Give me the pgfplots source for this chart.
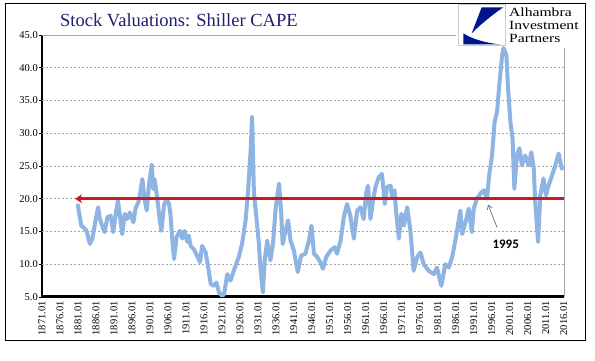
\documentclass[border=0pt]{standalone}
\usepackage{pgfplots}
\pgfplotsset{compat=1.18}
\usepackage{fontspec}
\setmainfont{Liberation Serif}
\newfontfamily\calibri{Carlito}
\newfontfamily\logofont[FakeStretch=1.25]{Liberation Serif}
\usetikzlibrary{arrows.meta}
\definecolor{cape}{RGB}{141,180,226}
\definecolor{navy}{RGB}{31,31,115}
\definecolor{redline}{RGB}{204,24,30}
\definecolor{logoblue}{RGB}{0,20,140}
\definecolor{annot}{RGB}{70,95,135}
\pgfplotstableread{
year val
1881.0 19.0
1881.2 18.2
1881.9 15.9
1882.6 15.6
1883.4 15.1
1884.3 13.1
1885.0 13.9
1885.9 16.7
1886.6 18.7
1887.1 16.9
1887.7 15.9
1888.4 14.9
1889.2 17.2
1890.1 17.4
1890.8 14.9
1891.5 17.7
1892.1 19.7
1892.6 17.7
1893.3 14.6
1894.0 17.7
1894.7 16.9
1895.4 17.9
1896.4 16.4
1897.0 18.5
1897.8 19.5
1898.2 20.5
1898.9 23.0
1899.5 20.0
1900.1 18.2
1900.7 22.0
1901.5 25.2
1901.9 21.5
1902.3 23.0
1903.0 20.2
1903.7 16.9
1904.2 15.1
1904.9 19.0
1905.6 20.0
1906.3 19.2
1906.7 17.7
1907.2 13.9
1907.7 10.8
1908.4 14.1
1909.3 15.1
1910.0 13.9
1910.6 15.1
1911.4 13.4
1911.8 14.4
1912.3 12.8
1913.2 12.3
1914.1 11.3
1914.9 10.3
1915.5 12.8
1916.5 11.8
1917.4 8.8
1917.9 7.0
1918.8 6.7
1919.5 7.2
1920.2 5.7
1921.1 5.2
1921.6 5.4
1922.5 8.5
1923.4 7.5
1924.3 9.0
1925.7 11.1
1926.6 13.1
1927.6 16.7
1928.3 21.3
1929.0 27.4
1929.4 32.5
1929.9 21.0
1930.5 17.7
1931.3 13.1
1931.7 9.5
1932.4 5.7
1932.9 10.6
1933.6 13.6
1934.5 10.6
1935.2 13.1
1935.9 18.2
1936.6 21.3
1936.9 22.3
1937.5 17.7
1937.9 13.1
1938.7 15.1
1939.4 16.7
1940.1 13.6
1941.0 12.1
1942.1 8.8
1943.0 11.3
1944.2 11.6
1945.2 13.6
1945.9 15.9
1946.6 11.6
1947.5 11.1
1948.4 10.3
1949.1 9.3
1950.0 11.1
1951.2 12.1
1952.4 12.6
1953.0 11.6
1954.0 13.6
1954.9 17.2
1955.8 19.2
1956.7 17.4
1957.7 13.9
1958.6 18.2
1959.5 18.7
1960.4 16.9
1961.1 20.8
1961.6 22.0
1962.3 16.9
1963.0 19.7
1963.7 21.8
1964.6 23.3
1965.5 23.8
1966.3 19.2
1966.9 21.8
1967.9 22.0
1968.3 20.2
1969.0 21.3
1969.4 18.2
1970.2 13.9
1970.9 17.7
1971.6 15.9
1972.5 18.7
1973.4 15.2
1974.3 9.0
1975.3 11.1
1976.2 11.8
1977.1 10.0
1978.5 9.0
1979.9 8.5
1980.8 9.5
1982.0 6.7
1983.1 10.0
1984.1 9.5
1985.0 11.1
1985.9 13.6
1987.3 18.2
1987.8 14.6
1989.1 17.2
1989.6 18.5
1990.5 14.9
1991.0 18.5
1991.9 20.0
1992.9 20.8
1993.8 21.3
1994.7 20.0
1995.3 23.6
1996.1 26.6
1996.8 31.7
1997.5 33.3
1998.1 37.3
1998.9 41.9
1999.3 43.0
2000.1 41.9
2000.5 37.3
2001.2 31.7
2001.8 29.2
2002.3 21.5
2003.0 26.6
2003.7 27.7
2004.4 25.1
2005.3 26.6
2006.3 25.1
2007.0 27.1
2007.7 24.6
2008.1 19.5
2008.9 13.4
2009.5 20.5
2010.4 23.1
2011.1 20.5
2011.8 22.0
2012.8 23.6
2013.7 25.1
2014.6 26.9
2015.5 24.6
}\capedata
\begin{document}
\begin{tikzpicture}[x=1pt,y=1pt]
\path[use as bounding box] (0,0) rectangle (595,361);
\fill[white] (0,0) rectangle (595,361);
\draw[line width=1pt] (5,357) rectangle (585,20);
\begin{axis}[
  at={(42pt,64pt)}, anchor=south west,
  scale only axis, width=522pt, height=262pt,
  xmin=1871, xmax=2016.1, ymin=5, ymax=45,
  clip=false,
  axis x line*=bottom, axis y line*=left,
  axis line style={-},
  x axis line style={line width=3pt},
  y axis line style={line width=1.2pt},
  xtick={1871,1876,...,2016},
  xticklabels={1871.01,1876.01,1881.01,1886.01,1891.01,1896.01,1901.01,1906.01,1911.01,1916.01,1921.01,1926.01,1931.01,1936.01,1941.01,1946.01,1951.01,1956.01,1961.01,1966.01,1971.01,1976.01,1981.01,1986.01,1991.01,1996.01,2001.01,2006.01,2011.01,2016.01},
  xticklabel style={rotate=90, anchor=east, font=\fontsize{10.5}{12}\selectfont, inner sep=1pt},
  xtick style={draw=none},
  ytick={5,10,...,45},
  yticklabel style={font=\fontsize{10.5}{12}\selectfont, inner sep=1pt},
  ytick style={black, line width=0.6pt},
  tick align=outside, major tick length=3pt,
  /pgf/number format/.cd, fixed, fixed zerofill, precision=1, assume math mode=true,
]
\pgfplotsinvokeforeach{10,15,...,40}{
  \draw[gray!70, line width=0.6pt, dash pattern=on 2pt off 2pt] (axis cs:1871,#1) -- (axis cs:2016.1,#1);
}
\draw[gray!70, line width=0.8pt] (axis cs:1871,45) -- (axis cs:1986,45);
\draw[gray!70, line width=0.8pt] (axis cs:2016.1,43) -- (axis cs:2016.1,5);
\addplot[color=cape, line width=4pt, line join=round, line cap=round, no markers] table[x=year,y=val] {\capedata};
\addplot[color=redline, line width=3pt, no markers, -{Stealth[length=7pt,width=9pt]}] coordinates {(2016.1,20) (1880.2,20)};
\draw[annot, line width=0.6pt, -{Straight Barb[length=4pt,width=5pt]}] (axis cs:1997.5,15.6) -- (axis cs:1995.0,19.1);
\node[font=\calibri\bfseries\fontsize{13}{13}\selectfont] at (axis cs:1999.9,13.1) {1995};
\end{axis}
% title
\node[anchor=base west, text=navy, font=\fontsize{18.5}{18.5}\selectfont, inner sep=0] at (60,334) {Stock Valuations: Shiller CAPE};
% logo
\fill[white] (458,357) rectangle (505,316);
\draw[gray!40, line width=0.6pt] (458,357) rectangle (505,316);
\fill[logoblue] (481.7,353.7) -- (503.3,353.7) .. controls (492,346) and (480,336) .. (471.7,327.7) -- cycle;
\fill[logoblue] (463.3,327.7) -- (463.3,316.5) -- (500.5,316.5) .. controls (486,318) and (472,322) .. cycle;
\node[anchor=north west, align=left, font=\logofont\fontsize{12.5}{12.6}\selectfont, inner sep=0] at (509,353) {Alhambra\\Investment\\Partners};
\end{tikzpicture}
\end{document}
